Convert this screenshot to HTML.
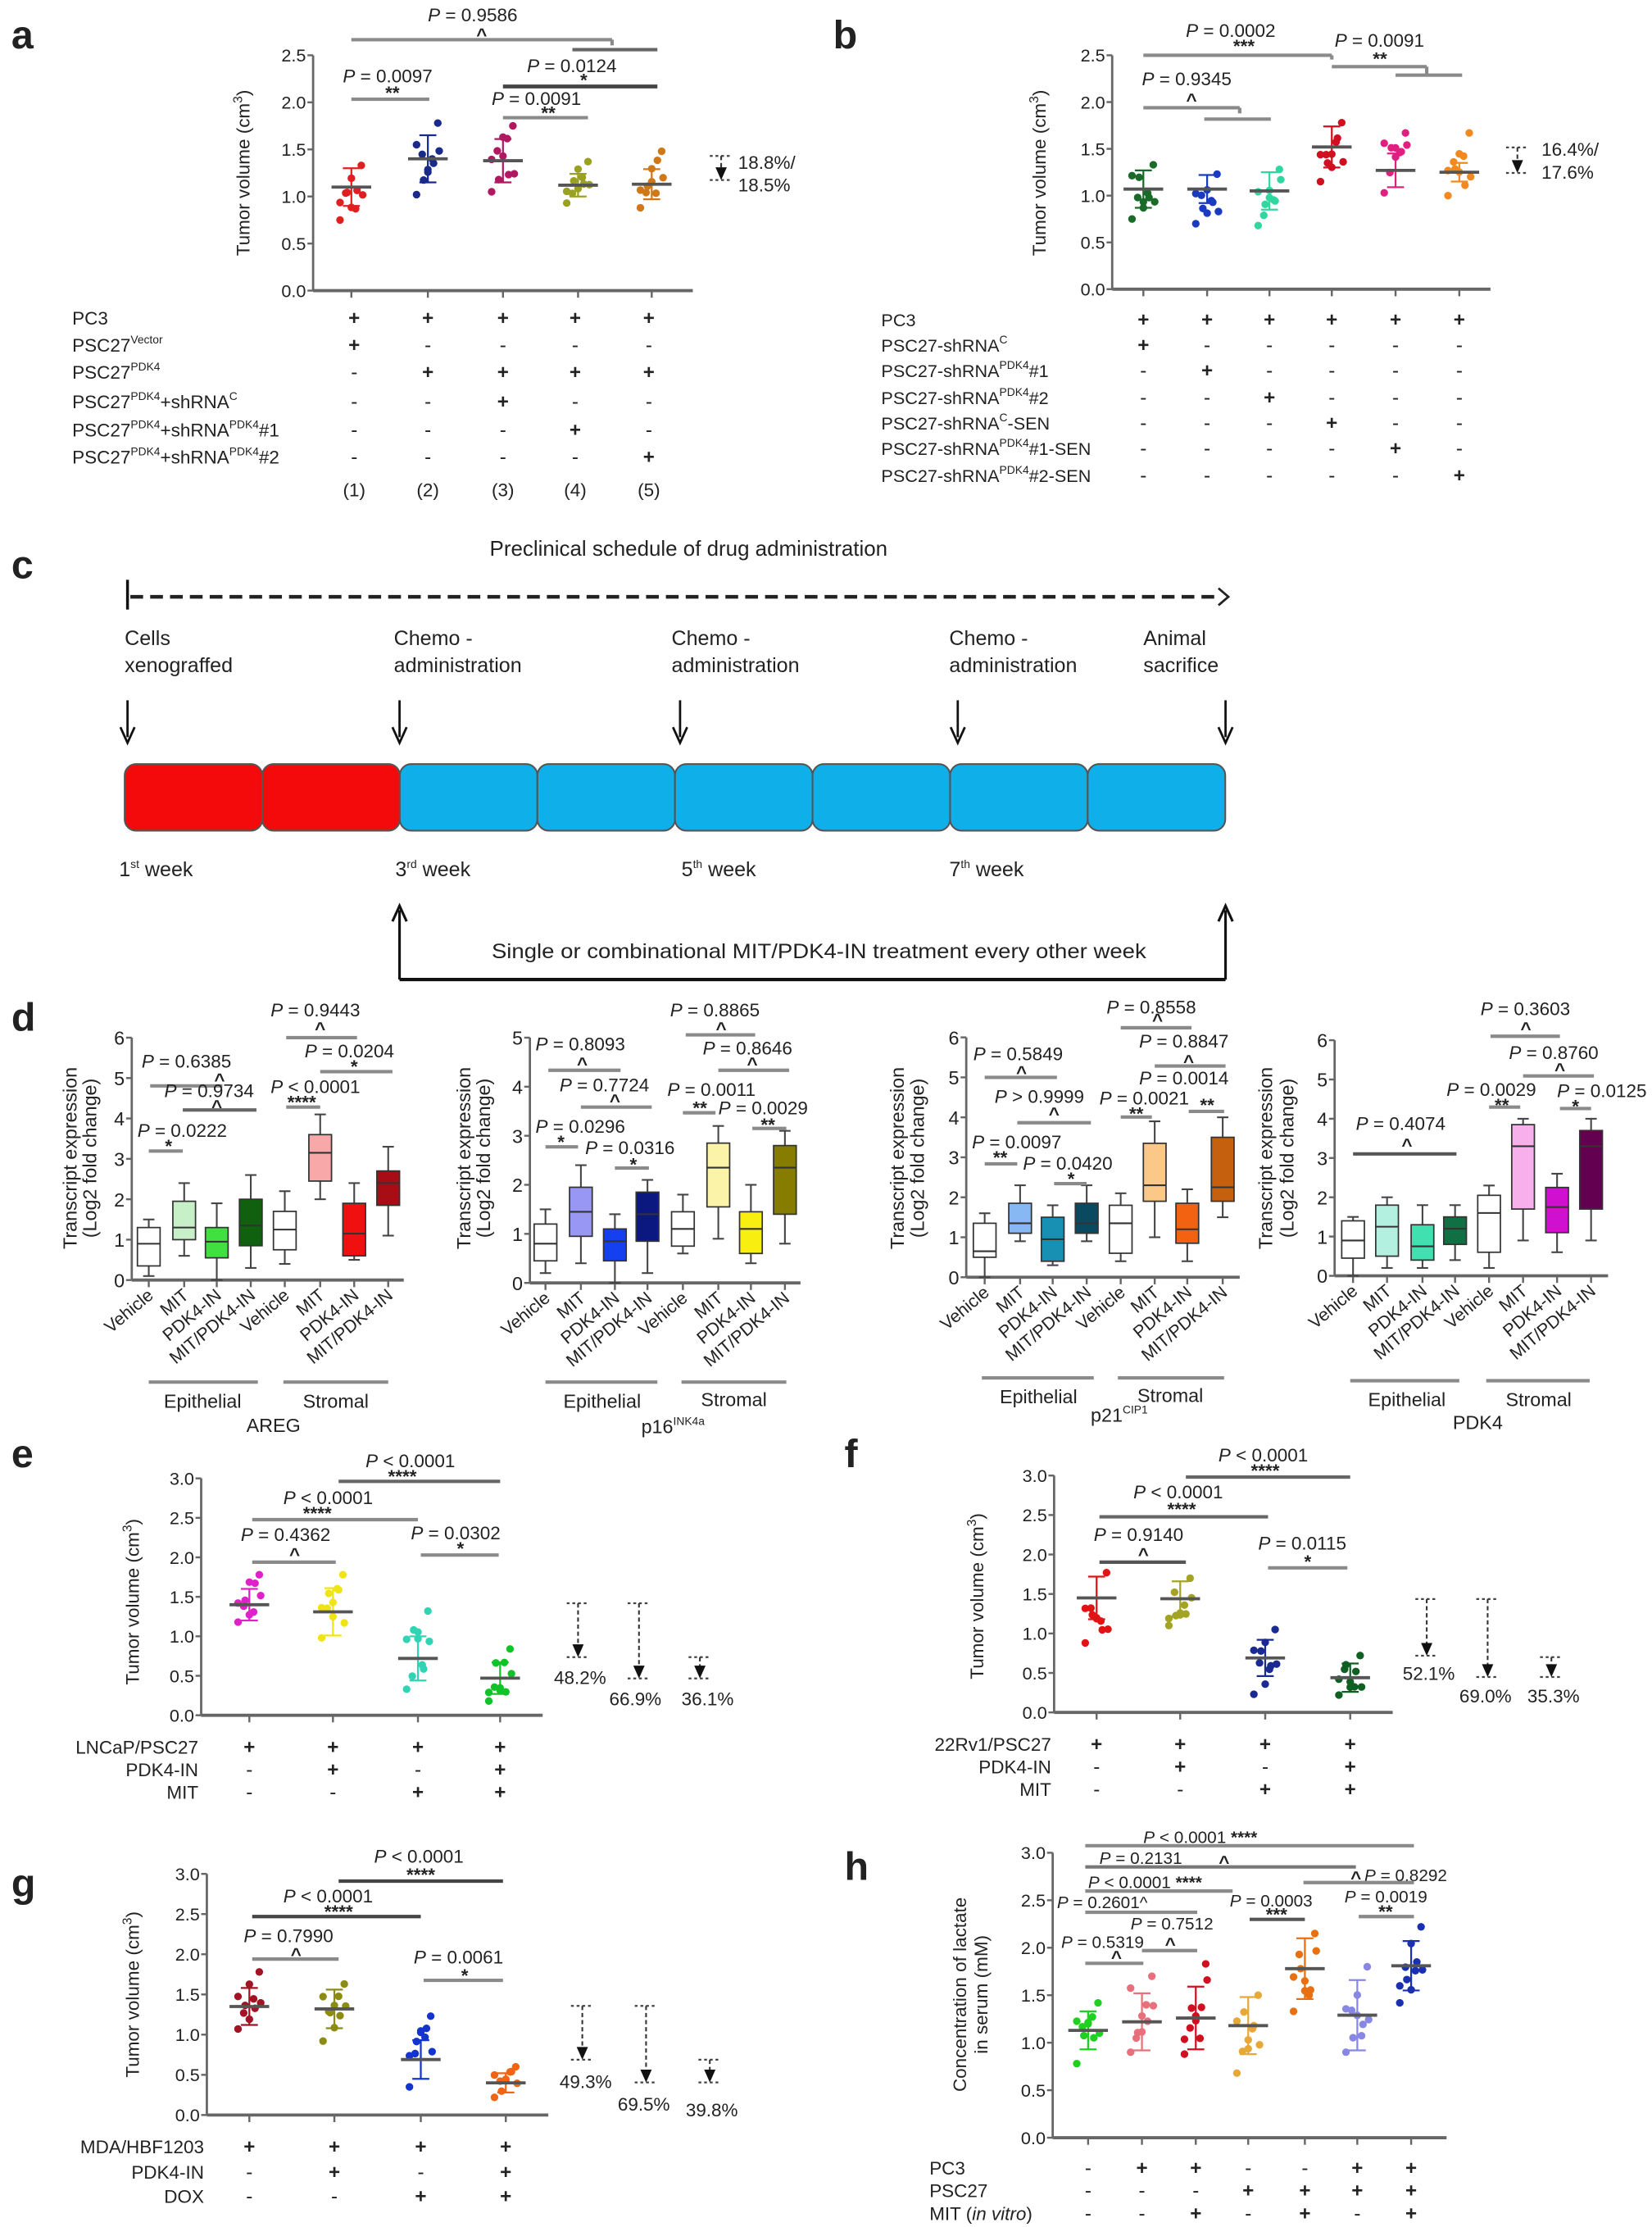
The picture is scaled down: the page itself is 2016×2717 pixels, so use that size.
<!DOCTYPE html>
<html><head><meta charset="utf-8"><style>html,body{margin:0;padding:0;background:#fff}svg{display:block}text{font-family:"Liberation Sans",Arial,sans-serif}</style></head>
<body>
<div id="root"></div>
<script>
const o=[];
function t(x,y,s,p={}){o.push(`<text x="${x}" y="${y}" font-size="${p.fs||13}" text-anchor="${p.a||'start'}"${p.w?' font-weight="bold"':''}${p.tr?` transform="${p.tr}"`:''}${p.tl?` textLength="${p.tl}" lengthAdjust="spacingAndGlyphs"`:''} fill="${p.c||'#222'}">${s}</text>`);}
function L(x1,y1,x2,y2,c='#8a8a8a',w=2.4,d=''){o.push(`<line x1="${x1}" y1="${y1}" x2="${x2}" y2="${y2}" stroke="${c}" stroke-width="${w}"${d?` stroke-dasharray="${d}"`:''}/>`);}
function P(x,y,rest,fs=13){t(x,y+5,'<tspan font-style="italic">P</tspan> '+rest,{fs});}
function star(x,y,s){t(x,y+6,s,{fs:13,a:'middle',w:1});}
function sup(b,s){return b+`<tspan font-size="8" baseline-shift="6">${s}</tspan>`;}
let seed=7;function rnd(){seed=(seed*9301+49297)%233280;return seed/233280;}
function scat(c){
  const {ax,y0,k,top,xend,gs}=c;
  L(ax,y0,ax,y0-top*k,'#666',1.6);L(ax,y0,xend,y0,'#666',2.2);
  for(let v=0;v<=top+1e-6;v+=0.5){const y=y0-v*k;L(ax-4,y,ax,y,'#666',1.4);t(ax-5,y+4.5,v.toFixed(1),{fs:12.5,a:'end'});}
  gs.forEach(g=>{const [x,m,sd,mn,mx,col]=g;L(x,y0,x,y0+5,'#666',1.4);
    const jit=[-8,7,-4,4,0,-8,8,-3,3,0];
    for(let i=0;i<10;i++){let v=i==0?mn:i==1?mx:mn+(mx-mn)*(0.15+0.7*rnd());
      o.push(`<circle cx="${x+jit[i]}" cy="${y0-v*k}" r="2.7" fill="${col}"/>`);}
    L(x,y0-(m-sd)*k,x,y0-(m+sd)*k,col,1.3);L(x-6,y0-(m-sd)*k,x+6,y0-(m-sd)*k,col,1.3);L(x-6,y0-(m+sd)*k,x+6,y0-(m+sd)*k,col,1.3);
    L(x-14,y0-m*k,x+14,y0-m*k,'#555',2.2);});
}
function ytitle(x,cy,s,fs=13){t(x,cy,s,{fs,a:'middle',tr:`rotate(-90 ${x} ${cy})`});}
function signs(xs,y,s){for(let i=0;i<xs.length;i++)t(xs[i],y+5,s[i]=='+'?'+':'-',{fs:14,a:'middle',w:s[i]=='+'});}
function darrow(x,y1,y2){L(x-8,y1,x+8,y1,'#444',1.3,'2,2');L(x-8,y2,x+8,y2,'#444',1.3,'2,2');L(x,y1,x,y2-7,'#333',1.2,'3,2');o.push(`<polygon points="${x-4},${y2-9} ${x+4},${y2-9} ${x},${y2}" fill="#111"/>`);}
function box(x,y0,k,b,col){const [q1,me,q3,lo,hi]=b;const w=8;
  L(x,y0-lo*k,x,y0-hi*k,'#444',1.2);L(x-4,y0-hi*k,x+4,y0-hi*k,'#444',1.2);L(x-4,y0-lo*k,x+4,y0-lo*k,'#444',1.2);
  o.push(`<rect x="${x-w}" y="${y0-q3*k}" width="${2*w}" height="${(q3-q1)*k}" fill="${col}" stroke="#333" stroke-width="1"/>`);
  L(x-w,y0-me*k,x+w,y0-me*k,'#333',1.2);}
const labs=['Vehicle','MIT','PDK4-IN','MIT/PDK4-IN','Vehicle','MIT','PDK4-IN','MIT/PDK4-IN'];
function dpan(c){const {ax,y0,k,max,xs,xend,bx,cols,tx1,tx2}=c;
  L(ax,y0,ax,y0-max*k,'#666',1.6);L(ax,y0,xend,y0,'#666',2.2);
  for(let v=0;v<=max;v++){const y=y0-v*k;L(ax-4,y,ax,y,'#666',1.4);t(ax-5,y+5,v,{fs:13.5,a:'end'});}
  xs.forEach((x,i)=>{L(x,y0,x,y0+5,'#666',1.4);box(x,y0,k,bx[i],cols[i]);
    const lx=x+4,ly=y0+12;t(lx,ly,labs[i],{fs:12.5,a:'end',tr:`rotate(-40 ${lx} ${ly})`});});
  ytitle(tx1,817,'Transcript expression',13.5);ytitle(tx2,817,'(Log2 fold change)',13.5);
}
const CM='Tumor volume (cm<tspan font-size="9" baseline-shift="5">3</tspan>)';
// ---------- panel a
t(8,34,'a',{fs:28,w:1});
scat({ax:221,y0:205,k:66.4,top:2.5,xend:489,gs:[[248,1.1,.2,.75,1.33,'#e02020'],[302,1.4,.25,1.02,1.78,'#1a2a8a'],[355,1.38,.23,1.05,1.75,'#b01860'],[408,1.12,.12,.93,1.37,'#9aa020'],[460,1.13,.16,.88,1.48,'#d07818']]});
t(176,122,CM,{fs:13,a:'middle',tr:'rotate(-90 176 122)'});
P(302,10,'= 0.9586');star(340,23,'^');L(248,28,432,28);L(432,28,432,32);
P(242,53,'= 0.0097');star(277,64,'**');L(248,70,303,70);
P(372,46,'= 0.0124');L(404,35,464,35,'#666');star(412,55,'*');L(355,61,464,61,'#444',2.8);
P(347,69,'= 0.0091');star(387,78,'**');L(355,83,415,83);
darrow(509,110,127);t(521,119,'18.8%/',{fs:13});t(521,135,'18.5%',{fs:13});
const ax_=[250,302,355,406,458];
t(51,229,'PC3');signs(ax_,224,'+++++');
t(51,248,sup('PSC27','Vector'));signs(ax_,243,'+----');
t(51,267,sup('PSC27','PDK4'));signs(ax_,262,'-++++');
t(51,288,sup('PSC27','PDK4')+'+'+sup('shRNA','C'));signs(ax_,283,'--+--');
t(51,308,sup('PSC27','PDK4')+'+'+sup('shRNA','PDK4')+'#1');signs(ax_,303,'---+-');
t(51,327,sup('PSC27','PDK4')+'+'+sup('shRNA','PDK4')+'#2');signs(ax_,322,'----+');
['(1)','(2)','(3)','(4)','(5)'].forEach((s,i)=>t(ax_[i],350,s,{fs:13,a:'middle'}));
// ---------- panel b
t(588,34,'b',{fs:28,w:1});
scat({ax:785,y0:204,k:66,top:2.5,xend:1052,gs:[[807,1.07,.2,.75,1.33,'#1a6a2a'],[852,1.07,.15,.7,1.23,'#1a3ac0'],[896,1.05,.2,.68,1.28,'#30d8a0'],[940,1.52,.22,1.15,1.78,'#d01020'],[985,1.27,.18,1.03,1.67,'#e02080'],[1030,1.25,.1,1.0,1.67,'#f08a20']]});
t(738,122,CM,{fs:13,a:'middle',tr:'rotate(-90 738 122)'});
P(837,21,'= 0.0002');star(878,31,'***');L(807,39,940,39);L(940,39,940,42);
P(942,28,'= 0.0091');star(974,40,'**');L(940,47,1007,47);L(1007,47,1007,53);L(985,53,1032,53);
P(806,55,'= 0.9345');star(841,69,'^');L(807,76,875,76);L(875,76,875,80);L(850,84,897,84);
darrow(1071,104,122);t(1088,110,'16.4%/');t(1088,126,'17.6%');
const bx_=[807,852,896,940,985,1030];
const bl=[['PC3','++++++'],[sup('PSC27-shRNA','C'),'+-----'],[sup('PSC27-shRNA','PDK4')+'#1','-+----'],[sup('PSC27-shRNA','PDK4')+'#2','--+---'],[sup('PSC27-shRNA','C')+'-SEN','---+--'],[sup('PSC27-shRNA','PDK4')+'#1-SEN','----+-'],[sup('PSC27-shRNA','PDK4')+'#2-SEN','-----+']];
const by=[225,243,261,280,298,316,335];
bl.forEach((r,i)=>{t(622,by[i]+5,r[0],{fs:12.5});signs(bx_,by[i],r[1]);});
// ---------- panel c
t(8,408,'c',{fs:28,w:1});
t(486,392,'Preclinical schedule of drug administration',{fs:15,a:'middle'});
L(90,409,90,430,'#111',2);L(92,421,860,421,'#222',2.6,'9,5');o.push('<polyline points="860,415 867,421 860,427" fill="none" stroke="#222" stroke-width="1.6"/>');
[['Cells','xenograffed',88],['Chemo -','administration',278],['Chemo -','administration',474],['Chemo -','administration',670],['Animal','sacrifice',807]].forEach(a=>{t(a[2],455,a[0],{fs:14.5});t(a[2],474,a[1],{fs:14.5});});
[90,282,480,676,865].forEach(x=>{L(x,494,x,520,'#111',1.6);o.push(`<polyline points="${x-5},${513} ${x},${524} ${x+5},${513}" fill="none" stroke="#111" stroke-width="1.6"/>`);});
for(let i=0;i<8;i++){const x=88+i*97.1;o.push(`<rect x="${x}" y="539" width="97.1" height="47" rx="8" fill="${i<2?'#f40a0a':'#0fb0ea'}" stroke="#555" stroke-width="1.2"/>`);}
t(84,618,'1<tspan font-size="8" baseline-shift="6">st</tspan> week',{fs:14.5});
t(279,618,'3<tspan font-size="8" baseline-shift="6">rd</tspan> week',{fs:14.5});
t(481,618,'5<tspan font-size="8" baseline-shift="6">th</tspan> week',{fs:14.5});
t(670,618,'7<tspan font-size="8" baseline-shift="6">th</tspan> week',{fs:14.5});
L(282,691,865,691,'#111',2.4);L(282,691,282,642,'#111',1.8);L(865,691,865,642,'#111',1.8);
[282,865].forEach(x=>o.push(`<polyline points="${x-5},${650} ${x},${639} ${x+5},${650}" fill="none" stroke="#111" stroke-width="1.8"/>`));
t(578,676,'Single or combinational MIT/PDK4-IN treatment every other week',{fs:14.5,a:'middle',tl:462});
// ---------- panel d
t(8,727,'d',{fs:28,w:1});
const W='#ffffff';
dpan({ax:93,y0:903,k:28.5,max:6,xs:[105,130,153,177,201,226,250,274],xend:285,tx1:54,tx2:68,
bx:[[.35,.9,1.3,.1,1.5],[1,1.3,1.95,.6,2.4],[.55,.95,1.3,0,1.9],[.85,1.35,2,.3,2.6],[.75,1.25,1.7,.4,2.2],[2.45,3.15,3.6,2,4.1],[.6,1.15,1.9,.5,2.4],[1.85,2.4,2.7,1.1,3.3]],
cols:[W,'#c8f0c8','#40e040','#106010',W,'#f8a8a8','#f01010','#a80c14']});
P(100,748,'= 0.6385');star(155,760,'^');L(106,766,157,766);
P(116,769,'= 0.9734');star(153,779,'^');L(129,783,181,783,'#666');
P(97,797,'= 0.0222');star(119,807,'*');L(105,812,129,812);
P(191,712,'= 0.9443');star(226,724,'^');L(202,732,252,732);
P(215,741,'= 0.0204');star(250,751,'*');L(226,756,277,756);
P(191,766,'&lt; 0.0001');star(213,776,'****');L(202,781,226,781);
L(105,975,182,975);L(200,975,274,975);t(143,993,'Epithelial',{fs:13.5,a:'middle'});t(237,993,'Stromal',{fs:13.5,a:'middle'});t(193,1010,'AREG',{fs:13.5,a:'middle'});
dpan({ax:374,y0:905,k:34.6,max:5,xs:[385,410,434,457,482,507,530,554],xend:565,tx1:332,tx2:346,
bx:[[.45,.8,1.2,.2,1.5],[.95,1.45,1.95,.4,2.4],[.45,.85,1.1,0,1.4],[.85,1.4,1.85,.2,2.1],[.75,1.1,1.45,.6,1.8],[1.55,2.35,2.85,.9,3.2],[.6,1.1,1.45,.4,2],[1.4,2.35,2.8,.8,3.1]],
cols:[W,'#9898f4','#1440f0','#0a1880',W,'#fbf3a8','#f8ee10','#857c00']});
P(378,736,'= 0.8093');star(411,749,'^');L(387,755,438,755);
P(395,765,'= 0.7724');star(434,775,'^');L(410,781,460,781);
P(378,794,'= 0.0296');star(396,804,'*');L(385,809,408,809);
P(413,809,'= 0.0316');star(447,820,'*');L(434,824,458,824);
P(473,712,'= 0.8865');star(509,724,'^');L(484,730,533,730);
P(496,739,'= 0.8646');star(531,749,'^');L(507,755,557,755);
P(471,768,'= 0.0011');star(494,780,'**');L(482,785,505,785);
P(507,781,'= 0.0029');star(542,792,'**');L(531,796,555,796);
L(385,975,464,975);L(481,975,555,975);t(425,993,'Epithelial',{fs:13.5,a:'middle'});t(518,992,'Stromal',{fs:13.5,a:'middle'});t(475,1011,'p16<tspan font-size="8" baseline-shift="6">INK4a</tspan>',{fs:13.5,a:'middle'});
dpan({ax:682,y0:901,k:28.2,max:6,xs:[695,720,743,767,791,815,838,863],xend:875,tx1:638,tx2:652,
bx:[[.5,.65,1.35,0,1.6],[1.1,1.35,1.85,.9,2.3],[.4,.95,1.5,.3,1.8],[1.1,1.35,1.85,.9,2.3],[.6,1.35,1.8,.4,2.1],[1.9,2.3,3.35,1,3.9],[.85,1.2,1.85,.4,2.2],[1.9,2.25,3.5,1.5,4]],
cols:[W,'#88b8f4','#1890b4','#0a4a60',W,'#fbc888','#f26210','#c4600e']});
P(687,743,'= 0.5849');star(721,755,'^');L(695,760,746,760);
P(702,773,'&gt; 0.9999');star(744,784,'^');L(718,792,770,792);
P(686,805,'= 0.0097');star(706,815,'**');L(695,821,718,821);
P(722,820,'= 0.0420');star(756,830,'*');L(744,835,767,835);
P(781,710,'= 0.8558');star(817,718,'^');L(791,725,841,725);
P(804,734,'= 0.8847');star(839,747,'^');L(815,752,865,752);
P(804,760,'= 0.0014');P(776,774,'= 0.0021');star(802,784,'**');L(791,788,813,788);star(852,778,'**');L(839,784,864,784);
L(693,972,772,972);L(789,972,864,972);t(733,990,'Epithelial',{fs:13.5,a:'middle'});t(826,989,'Stromal',{fs:13.5,a:'middle'});t(790,1003,'p21<tspan font-size="8" baseline-shift="6">CIP1</tspan>',{fs:13.5,a:'middle'});
dpan({ax:942,y0:900,k:27.7,max:6,xs:[955,979,1004,1027,1051,1075,1099,1123],xend:1135,tx1:898,tx2:913,
bx:[[.45,.9,1.4,0,1.5],[.5,1.25,1.8,.2,2],[.4,.75,1.3,.2,1.8],[.8,1.2,1.5,.4,1.8],[.6,1.6,2.05,.2,2.3],[1.7,3.3,3.85,.9,4],[1.1,1.75,2.25,.6,2.6],[1.7,3.3,3.7,.9,4]],
cols:[W,'#b4f0e0','#40e0b0','#107044',W,'#f8b0ec','#d010d0','#640050']});
P(957,792,'= 0.4074');star(993,806,'^');L(955,814,1028,814,'#555');
P(1045,711,'= 0.3603');star(1077,724,'^');L(1052,731,1101,731);
P(1065,742,'= 0.8760');star(1101,753,'^');L(1075,759,1125,759);
P(1021,768,'= 0.0029');star(1060,778,'**');L(1051,781,1073,781);
P(1099,769,'= 0.0125');star(1112,779,'*');L(1101,782,1123,782);
L(953,974,1030,974);L(1049,974,1122,974);t(993,992,'Epithelial',{fs:13.5,a:'middle'});t(1086,992,'Stromal',{fs:13.5,a:'middle'});t(1043,1008,'PDK4',{fs:13.5,a:'middle'});
// ---------- panel e
t(8,1035,'e',{fs:28,w:1});
scat({ax:142,y0:1210,k:55.7,top:3,xend:383,gs:[[176,1.4,.2,1.18,1.78,'#e020c8'],[235,1.31,.3,.98,1.78,'#f0e414'],[295,.72,.28,.33,1.32,'#30d4b4'],[353,.47,.2,.18,.84,'#10c428']]});
t(98,1130,CM,{fs:13,a:'middle',tr:'rotate(-90 98 1130)'});
P(258,1030,'&lt; 0.0001');star(284,1040,'****');L(239,1045,353,1045,'#666');
P(200,1056,'&lt; 0.0001');star(224,1066,'****');L(178,1072,295,1072);
P(170,1082,'= 0.4362');star(208,1095,'^');L(178,1102,237,1102);
P(290,1081,'= 0.0302');star(325,1091,'*');L(297,1097,352,1097);
darrow(408,1131,1169);darrow(451,1131,1184);darrow(494,1169,1184);
t(391,1188,'48.2%');t(430,1203,'66.9%');t(481,1203,'36.1%');
const ex=[176,235,295,353];
t(140,1237,'LNCaP/PSC27',{a:'end'});signs(ex,1232,'++++');
t(140,1253,'PDK4-IN',{a:'end'});signs(ex,1248,'-+-+');
t(140,1269,'MIT',{a:'end'});signs(ex,1264,'--++');
// ---------- panel f
t(596,1035,'f',{fs:28,w:1});
scat({ax:744,y0:1208,k:55.7,top:3,xend:983,gs:[[774,1.45,.27,.88,1.77,'#e01414'],[833,1.44,.22,1.1,1.7,'#a4a424'],[893,.69,.23,.23,1.05,'#1a2a90'],[953,.44,.18,.22,.72,'#106024']]});
t(694,1126,CM,{fs:13,a:'middle',tr:'rotate(-90 694 1126)'});
P(860,1026,'&lt; 0.0001');star(893,1036,'****');L(837,1042,953,1042,'#666');
P(800,1052,'&lt; 0.0001');star(834,1063,'****');L(776,1070,895,1070,'#666');
P(772,1082,'= 0.9140');star(807,1095,'^');L(776,1102,837,1102,'#555');
P(888,1088,'= 0.0115');star(923,1100,'*');L(895,1106,951,1106);
darrow(1007,1128,1168);darrow(1050,1128,1183);darrow(1095,1169,1183);
t(990,1185,'52.1%');t(1030,1201,'69.0%');t(1078,1201,'35.3%');
const fx=[774,833,893,953];
t(742,1235,'22Rv1/PSC27',{a:'end'});signs(fx,1230,'++++');
t(742,1251,'PDK4-IN',{a:'end'});signs(fx,1246,'-+-+');
t(742,1267,'MIT',{a:'end'});signs(fx,1262,'--++');
// ---------- panel g
t(8,1338,'g',{fs:28,w:1});
scat({ax:146,y0:1492,k:56.7,top:3,xend:387,gs:[[176,1.35,.23,1.07,1.78,'#a01424'],[236,1.32,.24,.92,1.63,'#8c8c14'],[297,.69,.24,.35,1.23,'#1434d0'],[357,.4,.12,.22,.6,'#f06414']]});
t(98,1407,CM,{fs:13,a:'middle',tr:'rotate(-90 98 1407)'});
P(264,1309,'&lt; 0.0001');star(297,1321,'****');L(239,1327,355,1327,'#444');
P(200,1337,'&lt; 0.0001');star(239,1347,'****');L(178,1352,297,1352,'#444');
P(172,1365,'= 0.7990');star(209,1377,'^');L(178,1382,239,1382);
P(292,1380,'= 0.0061');star(328,1392,'*');L(299,1397,355,1397);
darrow(411,1415,1453);darrow(456,1415,1469);darrow(501,1453,1469);
t(395,1473,'49.3%');t(436,1489,'69.5%');t(484,1493,'39.8%');
const gx=[176,236,297,357];
t(144,1519,'MDA/HBF1203',{a:'end'});signs(gx,1514,'++++');
t(144,1537,'PDK4-IN',{a:'end'});signs(gx,1532,'-+-+');
t(144,1554,'DOX',{a:'end'});signs(gx,1549,'--++');
// ---------- panel h
t(596,1326,'h',{fs:28,w:1});
scat({ax:743,y0:1508,k:67,top:3,xend:1021,gs:[[768,1.13,.2,.78,1.42,'#20d020'],[806,1.22,.3,.9,1.7,'#e8707c'],[844,1.26,.33,.88,1.83,'#d01020'],[881,1.18,.3,.68,1.5,'#e8a838'],[921,1.78,.32,1.33,2.15,'#e87010'],[958,1.29,.37,.9,1.8,'#8888e4'],[996,1.81,.26,1.42,2.22,'#1a30b0']]});
ytitle(682,1407,'Concentration of lactate',13);ytitle(697,1407,'in serum (mM)',13);
P(807,1295,'&lt; 0.0001 <tspan font-weight="bold">****</tspan>',12);L(766,1302,998,1302);
P(776,1310,'= 0.2131',12);star(864,1312,'^');L(766,1317,957,1317,'#777');
P(768,1327,'&lt; 0.0001 <tspan font-weight="bold">****</tspan>',12);L(766,1334,870,1334);
star(957,1323,'^');P(963,1322,'= 0.8292',12);L(920,1328,998,1328);
P(746,1341,'= 0.2601^',12);L(766,1349,845,1349);
P(868,1340,'= 0.0003',12);star(901,1349,'***');L(882,1354,921,1354,'#555');
P(949,1337,'= 0.0019',12);star(978,1347,'**');L(959,1352,998,1352);
P(798,1356,'= 0.7512',12);star(826,1370,'^');L(806,1376,845,1376);
P(749,1369,'= 0.5319',12);star(788,1379,'^');L(766,1385,807,1385);
const hx=[768,806,844,881,921,958,996];
t(656,1534,'PC3');signs(hx,1529,'-++--++');
t(656,1550,'PSC27');signs(hx,1545,'---++++');
t(656,1566,'MIT (<tspan font-style="italic">in vitro</tspan>)');signs(hx,1561,'--+-+-+');
document.getElementById('root').innerHTML=`<svg xmlns="http://www.w3.org/2000/svg" width="2016" height="2717" viewBox="0 0 1166 1571" preserveAspectRatio="none">${o.join('')}</svg>`;
</script>
</body></html>
